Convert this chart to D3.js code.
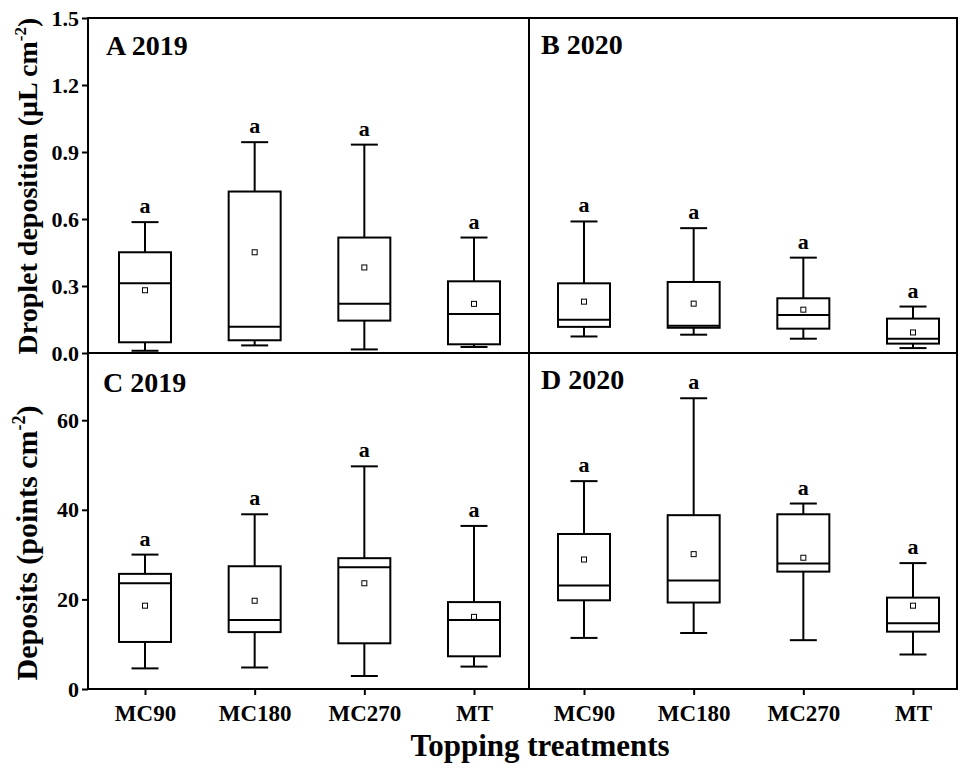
<!DOCTYPE html>
<html>
<head>
<meta charset="utf-8">
<script src="https://cdn.jsdelivr.net/npm/d3@7"></script>
<style>
  body { margin: 0; background: #fff; }
  svg text { font-family: "Liberation Serif", "Times New Roman", serif; font-weight: bold; fill: #000; }
</style>
</head>
<body>
<svg id="chart" width="958" height="769"></svg>
<script>
// treatments on the x axis
var treatments = ["MC90", "MC180", "MC270", "MT"];
var panelLabels = ["A 2019", "B 2020", "C 2019", "D 2020"];
var sigLetters = ["a", "a", "a", "a"];

// y ticks
var dropletTicks = [0, 0.3, 0.6, 0.9, 1.2, 1.5];
var depositTicks = [0, 20, 40, 60];

// box stats: lo whisker, q1, median, q3, hi whisker, mean
var dropletA2019 = [
  {lo: 0.010, q1: 0.048, med: 0.312, q3: 0.451, hi: 0.586, mean: 0.281},
  {lo: 0.034, q1: 0.057, med: 0.117, q3: 0.723, hi: 0.944, mean: 0.451},
  {lo: 0.016, q1: 0.145, med: 0.220, q3: 0.517, hi: 0.933, mean: 0.383},
  {lo: 0.027, q1: 0.039, med: 0.175, q3: 0.321, hi: 0.517, mean: 0.220}
];
var dropletB2020 = [
  {lo: 0.074, q1: 0.117, med: 0.149, q3: 0.312, hi: 0.589, mean: 0.230},
  {lo: 0.082, q1: 0.113, med: 0.122, q3: 0.318, hi: 0.559, mean: 0.221},
  {lo: 0.064, q1: 0.109, med: 0.170, q3: 0.245, hi: 0.427, mean: 0.194},
  {lo: 0.022, q1: 0.042, med: 0.064, q3: 0.154, hi: 0.208, mean: 0.092}
];
var depositC2019 = [
  {lo: 4.6, q1: 10.5, med: 23.6, q3: 25.7, hi: 30.0, mean: 18.6},
  {lo: 4.8, q1: 12.7, med: 15.4, q3: 27.4, hi: 39.0, mean: 19.7},
  {lo: 2.9, q1: 10.2, med: 27.2, q3: 29.2, hi: 49.7, mean: 23.6},
  {lo: 5.0, q1: 7.3, med: 15.4, q3: 19.4, hi: 36.4, mean: 16.1}
];
var depositD2020 = [
  {lo: 11.4, q1: 19.8, med: 23.1, q3: 34.6, hi: 46.4, mean: 28.9},
  {lo: 12.5, q1: 19.3, med: 24.2, q3: 38.8, hi: 64.9, mean: 30.1},
  {lo: 10.9, q1: 26.2, med: 28.0, q3: 39.0, hi: 41.4, mean: 29.3},
  {lo: 7.7, q1: 12.8, med: 14.7, q3: 20.4, hi: 28.1, mean: 18.6}
];

var svg = d3.select("#chart");

var plotLeft = 88, plotMid = 529, plotRight = 957;
var plotTop = 18, plotSplit = 353, plotBottom = 689;

var yTop = d3.scaleLinear().domain([0, 1.5]).range([plotSplit, plotTop]);
var yBot = d3.scaleLinear().domain([0, 75]).range([plotBottom, plotSplit]);
var xLeft = d3.scalePoint().domain(treatments).range([145, 474]);
var xRight = d3.scalePoint().domain(treatments).range([584, 913]);

var boxW = 52, capW = 27;

function drawBoxes(data, x, y, label, labelX, labelY){
  var g = svg.append("g");
  var rows = data.map(function(d, i){ return Object.assign({cat: treatments[i], sig: sigLetters[i]}, d); });

  var b = g.selectAll("g.box").data(rows).enter().append("g").attr("class", "box");

  // whiskers
  b.append("line")
    .attr("x1", function(d){ return x(d.cat); }).attr("x2", function(d){ return x(d.cat); })
    .attr("y1", function(d){ return y(d.q3); }).attr("y2", function(d){ return y(d.hi); });
  b.append("line")
    .attr("x1", function(d){ return x(d.cat); }).attr("x2", function(d){ return x(d.cat); })
    .attr("y1", function(d){ return y(d.q1); }).attr("y2", function(d){ return y(d.lo); });
  b.append("line")
    .attr("x1", function(d){ return x(d.cat) - capW/2; }).attr("x2", function(d){ return x(d.cat) + capW/2; })
    .attr("y1", function(d){ return y(d.hi); }).attr("y2", function(d){ return y(d.hi); });
  b.append("line")
    .attr("x1", function(d){ return x(d.cat) - capW/2; }).attr("x2", function(d){ return x(d.cat) + capW/2; })
    .attr("y1", function(d){ return y(d.lo); }).attr("y2", function(d){ return y(d.lo); });

  b.append("rect")
    .attr("x", function(d){ return x(d.cat) - boxW/2; })
    .attr("width", boxW)
    .attr("y", function(d){ return y(d.q3); })
    .attr("height", function(d){ return y(d.q1) - y(d.q3); })
    .attr("fill", "#fff");

  b.append("line")
    .attr("x1", function(d){ return x(d.cat) - boxW/2; }).attr("x2", function(d){ return x(d.cat) + boxW/2; })
    .attr("y1", function(d){ return y(d.med); }).attr("y2", function(d){ return y(d.med); });

  b.selectAll("line, rect").attr("stroke", "#000").attr("stroke-width", 2);

  // mean
  b.append("rect")
    .attr("x", function(d){ return x(d.cat) - 2.5; })
    .attr("y", function(d){ return y(d.mean) - 2.5; })
    .attr("width", 5).attr("height", 5)
    .attr("fill", "#fff").attr("stroke", "#000").attr("stroke-width", 1);

  b.append("text")
    .attr("x", function(d){ return x(d.cat); })
    .attr("y", function(d){ return y(d.hi) - 9; })
    .attr("text-anchor", "middle")
    .style("font-size", "22px")
    .text(function(d){ return d.sig; });

  g.append("text")
    .attr("x", labelX).attr("y", labelY)
    .style("font-size", "28px")
    .text(label);
}

drawBoxes(dropletA2019, xLeft, yTop, panelLabels[0], 106, 55);
drawBoxes(dropletB2020, xRight, yTop, panelLabels[1], 541, 54);
drawBoxes(depositC2019, xLeft, yBot, panelLabels[2], 103, 392);
drawBoxes(depositD2020, xRight, yBot, panelLabels[3], 541, 389);

// frame
var frame = svg.append("g").attr("stroke", "#000").attr("stroke-width", 2).attr("fill", "none");
frame.append("rect").attr("x", plotLeft).attr("y", plotTop).attr("width", plotRight - plotLeft).attr("height", plotBottom - plotTop);
frame.append("line").attr("x1", plotLeft).attr("x2", plotRight).attr("y1", plotSplit).attr("y2", plotSplit);
frame.append("line").attr("x1", plotMid).attr("x2", plotMid).attr("y1", plotTop).attr("y2", plotBottom);

// y axes
var axTop = svg.append("g").attr("transform", "translate(" + plotLeft + ",0)")
  .call(d3.axisLeft(yTop).tickValues(dropletTicks).tickFormat(d3.format(".1f")).tickSize(6).tickSizeOuter(0).tickPadding(3));
var axBot = svg.append("g").attr("transform", "translate(" + plotLeft + ",0)")
  .call(d3.axisLeft(yBot).tickValues(depositTicks).tickSize(6).tickSizeOuter(0).tickPadding(3));

// x axes
var axXL = svg.append("g").attr("transform", "translate(0," + plotBottom + ")")
  .call(d3.axisBottom(xLeft).tickSize(6).tickSizeOuter(0).tickPadding(10));
var axXR = svg.append("g").attr("transform", "translate(0," + plotBottom + ")")
  .call(d3.axisBottom(xRight).tickSize(6).tickSizeOuter(0).tickPadding(10));

[axTop, axBot, axXL, axXR].forEach(function(a){
  a.select(".domain").remove();
  a.selectAll(".tick line").attr("stroke", "#000").attr("stroke-width", 2);
  a.selectAll(".tick text").attr("font-family", null).attr("fill", "#000");
});
axTop.selectAll(".tick text").style("font-size", "22px");
axBot.selectAll(".tick text").style("font-size", "22px");
axXL.selectAll(".tick text").style("font-size", "23px");
axXR.selectAll(".tick text").style("font-size", "23px");

// axis titles
var t1 = svg.append("text")
  .attr("transform", "translate(37,186) rotate(-90)")
  .attr("text-anchor", "middle")
  .style("font-size", "28px");
t1.append("tspan").text("Droplet deposition (\u03bcL cm");
t1.append("tspan").attr("dy", -11).style("font-size", "17px").text("-2");
t1.append("tspan").attr("dy", 11).text(")");

var t2 = svg.append("text")
  .attr("transform", "translate(37,543) rotate(-90)")
  .attr("text-anchor", "middle")
  .style("font-size", "30px");
t2.append("tspan").text("Deposits (points cm");
t2.append("tspan").attr("dy", -12).style("font-size", "18px").text("-2");
t2.append("tspan").attr("dy", 12).text(")");

svg.append("text")
  .attr("x", 540).attr("y", 756)
  .attr("text-anchor", "middle")
  .style("font-size", "31px")
  .text("Topping treatments");
</script>
</body>
</html>
